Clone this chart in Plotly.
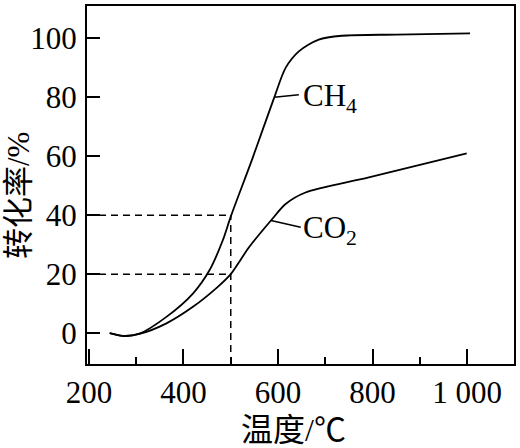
import plotly.graph_objects as go

# 读图估计的数据 (温度 / °C, 转化率 / %)
ch4_temp = [244, 276, 307, 364, 420, 455, 483, 500, 546, 592, 616, 644, 686, 735, 850, 1006]
ch4_conv = [0, -1, -0.2, 5.5, 13.4, 21.3, 31.4, 39.5, 59.3, 80, 90, 95.6, 99.6, 100.9, 101.3, 101.7]

co2_temp = [244, 276, 307, 364, 420, 472, 500, 539, 585, 616, 658, 792, 999]
co2_conv = [0, -1, -0.3, 3.3, 8.9, 15.6, 20, 29.2, 38.2, 43.8, 47.7, 52.8, 61]

guide_temp = 500
guide_levels = [40, 20]

x_range = [196, 1099]
y_range = [-10.5, 111]

x_major = [200, 400, 600, 800, 1000]
x_major_text = ["200", "400", "600", "800", "1 000"]
x_minor = [300, 500, 700, 900]
y_major = [0, 20, 40, 60, 80, 100]

# 标注引线: (曲线上的点, 文字起点)
ch4_leader = ([592, 644], [80, 80.9])
co2_leader = ([585, 648], [38.2, 35.9])

FONT = "Liberation Serif, Noto Sans CJK SC, serif"
SIZE = 31
LINE = dict(color="black", width=1.8)
DASH = dict(color="black", width=1.5, dash="7px,5px")

fig = go.Figure()

# 虚线辅助线
for level in guide_levels:
    fig.add_trace(go.Scatter(x=[x_range[0], guide_temp], y=[level, level],
                             mode="lines", line=DASH, hoverinfo="skip"))
fig.add_trace(go.Scatter(x=[guide_temp, guide_temp], y=[y_range[0], max(guide_levels)],
                         mode="lines", line=DASH, hoverinfo="skip"))

fig.add_trace(go.Scatter(x=ch4_temp, y=ch4_conv, mode="lines", name="CH4",
                         line=dict(LINE, shape="spline", smoothing=0.8)))
fig.add_trace(go.Scatter(x=co2_temp, y=co2_conv, mode="lines", name="CO2",
                         line=dict(LINE, shape="spline", smoothing=0.8)))

for lx, ly in (ch4_leader, co2_leader):
    fig.add_trace(go.Scatter(x=lx, y=ly, mode="lines", line=dict(color="black", width=1.5),
                             hoverinfo="skip"))

fig.add_annotation(x=ch4_leader[0][1], y=ch4_leader[1][1], text="CH<sub>4</sub>",
                   showarrow=False, xanchor="left", yanchor="middle", xshift=2, yshift=-3,
                   font=dict(family=FONT, size=SIZE, color="black"))
fig.add_annotation(x=co2_leader[0][1], y=co2_leader[1][1], text="CO<sub>2</sub>",
                   showarrow=False, xanchor="left", yanchor="middle", xshift=0, yshift=-3,
                   font=dict(family=FONT, size=SIZE, color="black"))

# 轴标题
fig.add_annotation(x=0.483, y=-0.183, xref="paper", yref="paper", text="温度/℃",
                   showarrow=False, xanchor="center", yanchor="middle",
                   font=dict(family=FONT, size=32, color="black"))
fig.add_annotation(x=-0.161, y=0.47, xref="paper", yref="paper", text="转化率/%",
                   textangle=-90, showarrow=False, xanchor="center", yanchor="middle",
                   font=dict(family=FONT, size=SIZE, color="black"))

axis_common = dict(showline=True, linecolor="black", linewidth=2, mirror=True,
                   showgrid=False, zeroline=False, ticks="inside", tickcolor="black",
                   tickwidth=2, tickfont=dict(family=FONT, size=SIZE, color="black"))

fig.update_xaxes(range=x_range, tickmode="array", tickvals=x_major, ticktext=x_major_text,
                 ticklen=15, ticklabelstandoff=0,
                 minor=dict(tickmode="array", tickvals=x_minor, ticklen=7, ticks="inside",
                            tickcolor="black", tickwidth=2),
                 **axis_common)
fig.update_yaxes(range=y_range, tickmode="array", tickvals=y_major, ticklen=13,
                 ticklabelstandoff=2, **axis_common)

fig.update_layout(width=520, height=448, margin=dict(l=87, r=4, t=4, b=84),
                  plot_bgcolor="white", paper_bgcolor="white", showlegend=False)

# 去掉页面默认的 8px 边距, 不显示工具栏
fig.write_html("out.html", config={"displayModeBar": False},
               post_script="document.body.style.margin='0';")
